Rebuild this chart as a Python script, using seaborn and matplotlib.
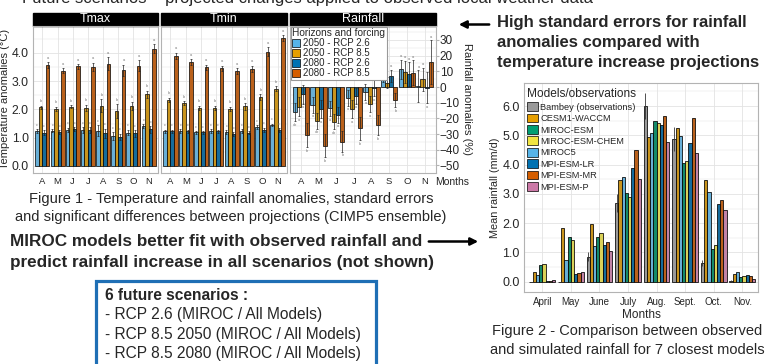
import numpy as np
import pandas as pd
import matplotlib
matplotlib.use("Agg")
import matplotlib.pyplot as plt
from matplotlib.patches import Rectangle, FancyArrowPatch, Patch
from matplotlib.ticker import MultipleLocator
import seaborn as sns

# ---- Figure 1 data : anomalies per scenario (rows) and month (columns)
month_ids = ["Apr", "May", "Jun", "Jul", "Aug", "Sep", "Oct", "Nov"]
month_letters = ["A", "M", "J", "J", "A", "S", "O", "N"]
scenarios = ["2050 - RCP 2.6", "2050 - RCP 8.5", "2080 - RCP 2.6", "2080 - RCP 8.5"]
scenario_colors = ["#56B4E9", "#E69F00", "#0072B2", "#D55E00"]

tmax = [[1.22, 1.25, 1.28, 1.27, 1.25, 1.05, 1.18, 1.42],
        [2.07, 2.03, 2.10, 2.05, 2.13, 1.93, 2.12, 2.53],
        [1.18, 1.20, 1.30, 1.27, 1.15, 1.02, 1.15, 1.30],
        [3.57, 3.37, 3.52, 3.50, 3.62, 3.38, 3.55, 4.15]]
tmax_se = [[0.07, 0.06, 0.07, 0.10, 0.20, 0.15, 0.10, 0.07],
           [0.06, 0.07, 0.06, 0.12, 0.22, 0.25, 0.15, 0.13],
           [0.08, 0.06, 0.08, 0.10, 0.17, 0.12, 0.12, 0.12],
           [0.10, 0.10, 0.08, 0.15, 0.22, 0.20, 0.20, 0.17]]

tmin = [[1.22, 1.24, 1.19, 1.24, 1.20, 1.22, 1.36, 1.45],
        [2.34, 2.22, 2.06, 2.05, 2.02, 2.11, 2.43, 2.73],
        [1.22, 1.22, 1.19, 1.22, 1.13, 1.18, 1.27, 1.27],
        [3.89, 3.68, 3.49, 3.45, 3.35, 3.43, 4.04, 4.53]]
tmin_se = [[0.06, 0.06, 0.05, 0.06, 0.06, 0.07, 0.07, 0.05],
           [0.08, 0.08, 0.07, 0.08, 0.08, 0.12, 0.10, 0.08],
           [0.06, 0.06, 0.05, 0.06, 0.06, 0.06, 0.08, 0.07],
           [0.12, 0.10, 0.09, 0.10, 0.10, 0.12, 0.15, 0.10]]

rain = [[-16.1, -11.5, -13.6, -6.8, -3.0, 6.2, 11.3, 0.6],
        [-12.5, -21.5, -22.0, -14.0, -11.0, 2.8, 9.8, 4.9],
        [-4.5, -14.0, -17.8, -5.7, -0.8, 7.0, 8.3, -0.4],
        [-30.6, -37.4, -34.8, -26.3, -24.2, -8.3, 9.1, 15.9]]
rain_se = [[5.8, 5.0, 5.0, 5.0, 5.0, 3.0, 6.0, 10.0],
           [6.0, 5.0, 5.0, 6.0, 5.0, 3.5, 7.0, 7.5],
           [6.0, 6.0, 5.0, 5.0, 5.0, 4.0, 7.5, 10.0],
           [7.8, 7.5, 6.5, 7.5, 6.5, 4.5, 8.0, 14.0]]

temp_letters = ["c", "b", "c", "a"]
rain_letters = [["ab", "a", "a", "a", "a", "a", "a", "a"],
                ["a", "ab", "ab", "a", "a", "a", "a", "a"],
                ["a", "a", "a", "a", "a", "a", "a", "a"],
                ["b", "b", "b", "b", "b", "b", "a", "a"]]

# ---- Figure 2 data : mean rainfall (mm/d)
fig2_months = ["April", "May", "June", "July", "Aug.", "Sept.", "Oct.", "Nov."]
sources = ["Bambey (observations)", "CESM1-WACCM", "MIROC5", "MIROC-ESM",
           "MIROC-ESM-CHEM", "MPI-ESM-LR", "MPI-ESM-MR", "MPI-ESM-P"]
legend_order = ["Bambey (observations)", "CESM1-WACCM", "MIROC-ESM", "MIROC-ESM-CHEM",
                "MIROC5", "MPI-ESM-LR", "MPI-ESM-MR", "MPI-ESM-P"]
source_colors = {"Bambey (observations)": "#999999", "CESM1-WACCM": "#E69F00",
                 "MIROC5": "#56B4E9", "MIROC-ESM": "#009E73", "MIROC-ESM-CHEM": "#F0E442",
                 "MPI-ESM-LR": "#0072B2", "MPI-ESM-MR": "#D55E00", "MPI-ESM-P": "#CC79A7"}

bambey = [0.0, 0.0, 0.85, 2.69, 6.00, 4.87, 0.65, 0.04]
bambey_se = [0.0, 0.0, 0.15, 0.30, 0.45, 0.42, 0.10, 0.02]
cesm1_waccm = [0.33, 1.82, 1.98, 3.48, 4.94, 5.26, 3.49, 0.26]
miroc5 = [0.23, 0.74, 1.23, 3.57, 5.07, 4.99, 3.05, 0.33]
miroc_esm = [0.58, 1.53, 1.53, 3.03, 5.48, 4.05, 1.13, 0.17]
miroc_esm_chem = [0.62, 1.44, 1.67, 2.89, 5.42, 4.12, 1.26, 0.19]
mpi_esm_lr = [0.02, 0.26, 1.27, 3.88, 5.35, 4.75, 2.64, 0.23]
mpi_esm_mr = [0.02, 0.30, 1.36, 4.50, 5.67, 5.61, 2.78, 0.21]
mpi_esm_p = [0.06, 0.32, 1.04, 3.50, 4.78, 4.39, 2.45, 0.11]

W, H = 770, 364
sns.set_style("white")
plt.rcParams["font.family"] = ["Liberation Sans", "DejaVu Sans"]
GRID = "#e3e3e3"
BORDER = "#b3b3b3"


def fx(x):
    return x / W


def fy(y):
    return 1 - y / H


def axes_box(x0, y0, x1, y1):
    return [fx(x0), fy(y1), (x1 - x0) / W, (y1 - y0) / H]


def long_df(values, errors):
    rows = []
    for sc, vals, errs in zip(scenarios, values, errors):
        for m, v, e in zip(month_ids, vals, errs):
            rows.append((m, sc, v, e))
    return pd.DataFrame(rows, columns=["month", "scenario", "value", "se"])


def style_axes(ax):
    ax.set_facecolor("white")
    ax.grid(True, which="major", color=GRID, lw=0.6)
    ax.grid(True, which="minor", axis="y", color=GRID, lw=0.35)
    ax.set_axisbelow(True)
    for s in ax.spines.values():
        s.set_visible(True)
        s.set_color(BORDER)
        s.set_linewidth(0.8)
    ax.set_xlabel("")
    ax.set_ylabel("")


def add_strip(ax, label):
    h = 13 / 146
    ax.add_patch(Rectangle((0, 1), 1, h, transform=ax.transAxes, facecolor="black",
                           edgecolor="black", clip_on=False))
    ax.text(0.5, 1 + h / 2, label, transform=ax.transAxes, color="white",
            ha="center", va="center", fontsize=9)


def draw_panel(ax, values, errors, letters, offset):
    df = long_df(values, errors)
    sns.barplot(data=df, x="month", y="value", hue="scenario", order=month_ids,
                hue_order=scenarios, palette=scenario_colors, width=0.92,
                edgecolor="black", linewidth=0.5, errorbar=None, legend=False, ax=ax)
    for i, (cont, sc) in enumerate(zip(ax.containers, scenarios)):
        sub = df[df.scenario == sc].set_index("month").loc[month_ids]
        xs = [b.get_x() + b.get_width() / 2 for b in cont]
        ax.errorbar(xs, sub["value"], yerr=sub["se"], fmt="none", ecolor="#222222",
                    elinewidth=0.5, capsize=0.8, capthick=0.5)
        for j, (x, v, e) in enumerate(zip(xs, sub["value"], sub["se"])):
            lab = letters[i] if isinstance(letters[i], str) else letters[i][j]
            if v >= 0:
                ax.text(x, v + e + offset, lab, ha="center", va="bottom",
                        fontsize=2.8, color="#777777")
            else:
                ax.text(x, v - e - offset, lab, ha="center", va="top",
                        fontsize=2.8, color="#777777")
    style_axes(ax)
    ax.set_xlim(-0.62, 7.62)
    ax.set_xticks(range(len(month_ids)))
    ax.set_xticklabels(month_letters)
    ax.tick_params(axis="x", length=2, color=BORDER, labelsize=6.8, pad=1)


fig = plt.figure(figsize=(W / 100, H / 100), dpi=100)

# ---- Figure 1 panels
ax_tmax = fig.add_axes(axes_box(33, 26, 158, 172.7))
ax_tmin = fig.add_axes(axes_box(161, 26, 287, 172.7))
ax_rain = fig.add_axes(axes_box(290, 26, 435.5, 172.7))

draw_panel(ax_tmax, tmax, tmax_se, temp_letters, 0.08)
draw_panel(ax_tmin, tmin, tmin_se, temp_letters, 0.08)
draw_panel(ax_rain, rain, rain_se, rain_letters, 1.0)

for ax in (ax_tmax, ax_tmin):
    ax.set_ylim(-0.24, 4.95)
    ax.yaxis.set_major_locator(MultipleLocator(1.0))
    ax.yaxis.set_minor_locator(MultipleLocator(0.5))
ax_tmax.set_yticks([0, 1, 2, 3, 4])
ax_tmax.set_yticklabels(["0.0", "1.0", "2.0", "3.0", "4.0"])
ax_tmax.tick_params(axis="y", which="major", length=2, color=BORDER, labelsize=8.8, pad=1)
ax_tmax.tick_params(axis="y", which="minor", length=0)
ax_tmax.set_ylabel("Temperature anomalies (°C)", fontsize=8, labelpad=1)
ax_tmin.tick_params(axis="y", which="both", length=0, labelleft=False)

ax_rain.set_ylim(-54.6, 38.9)
ax_rain.yaxis.set_major_locator(MultipleLocator(10))
ax_rain.yaxis.set_minor_locator(MultipleLocator(5))
ax_rain.yaxis.tick_right()
ax_rain.yaxis.set_label_position("right")
ax_rain.tick_params(axis="y", which="major", length=2, color=BORDER, labelsize=8.5,
                    pad=1, right=True, left=False)
ax_rain.tick_params(axis="y", which="minor", length=0)
ax_rain.set_ylabel("Rainfall anomalies (%)", fontsize=8, rotation=-90, labelpad=9)

add_strip(ax_tmax, "Tmax")
add_strip(ax_tmin, "Tmin")
add_strip(ax_rain, "Rainfall")

handles = [Patch(facecolor=c, edgecolor="black", linewidth=0.5) for c in scenario_colors]
leg = ax_rain.legend(handles, scenarios, title="Horizons and forcing", loc="upper left",
                     bbox_to_anchor=(0.0, 1.0), fontsize=7.0, title_fontsize=7.3,
                     frameon=True, fancybox=False, framealpha=1.0, borderpad=0.15,
                     labelspacing=0.0, handlelength=0.8, handleheight=0.75,
                     handletextpad=0.3, borderaxespad=0.1)
leg.get_frame().set_edgecolor("#999999")
leg.get_frame().set_linewidth(0.8)
leg._legend_box.align = "left"

fig.text(fx(435), fy(182), "Months", fontsize=7.5, ha="left", va="center")

# ---- Figure 2
ax2 = fig.add_axes(axes_box(524, 83, 758, 291.7))
df2 = pd.DataFrame({"month": fig2_months * 8,
                    "source": np.repeat(sources, len(fig2_months)),
                    "rain": bambey + cesm1_waccm + miroc5 + miroc_esm + miroc_esm_chem
                    + mpi_esm_lr + mpi_esm_mr + mpi_esm_p})
sns.barplot(data=df2, x="month", y="rain", hue="source", order=fig2_months,
            hue_order=sources, palette=source_colors, width=0.9, edgecolor="black",
            linewidth=0.55, errorbar=None, legend=False, ax=ax2)
obs_bars = ax2.containers[0]
ax2.errorbar([b.get_x() + b.get_width() / 2 for b in obs_bars], bambey, yerr=bambey_se,
             fmt="none", ecolor="#333333", elinewidth=0.6, capsize=0)
style_axes(ax2)
ax2.set_xlim(-0.64, 7.55)
ax2.set_ylim(-0.34, 6.79)
ax2.yaxis.set_major_locator(MultipleLocator(1.0))
ax2.yaxis.set_minor_locator(MultipleLocator(0.5))
ax2.set_yticks([0, 1, 2, 3, 4, 5, 6])
ax2.set_yticklabels(["0.0", "1.0", "2.0", "3.0", "4.0", "5.0", "6.0"])
ax2.tick_params(axis="y", which="major", length=2, color=BORDER, labelsize=9, pad=1)
ax2.tick_params(axis="y", which="minor", length=0)
ax2.tick_params(axis="x", length=2, color=BORDER, labelsize=7, pad=1.5)
ax2.set_ylabel("Mean rainfall (mm/d)", fontsize=7.8, labelpad=2)
ax2.set_xlabel("Months", fontsize=8.5, labelpad=2)

handles2 = [Patch(facecolor=source_colors[s], edgecolor="black", linewidth=0.5)
            for s in legend_order]
leg2 = ax2.legend(handles2, legend_order, title="Models/observations", loc="upper left",
                  bbox_to_anchor=(0.0, 0.99), fontsize=6.7, title_fontsize=8.6,
                  frameon=False, borderpad=0.25, labelspacing=0.19,
                  handlelength=1.2, handleheight=1.1, handletextpad=0.2,
                  borderaxespad=0.1)
leg2._legend_box.align = "left"

# ---- Texts and annotations
fig.text(fx(22), fy(3), "Future scenarios \u2013 projected changes applied to observed local weather data",
         fontsize=12, ha="left", va="baseline")

fig.text(fx(231), fy(199), "Figure 1 - Temperature and rainfall anomalies, standard errors",
         fontsize=10.5, ha="center", va="center")
fig.text(fx(231), fy(217.5), "and significant differences between projections (CIMP5 ensemble)",
         fontsize=10.5, ha="center", va="center")

fig.text(fx(10), fy(241), "MIROC models better fit with observed rainfall and",
         fontsize=12.3, fontweight="bold", ha="left", va="center")
fig.text(fx(10), fy(262), "predict rainfall increase in all scenarios (not shown)",
         fontsize=12.3, fontweight="bold", ha="left", va="center")

for i, line in enumerate(["High standard errors for rainfall", "anomalies compared with",
                          "temperature increase projections"]):
    fig.text(fx(497), fy(22 + 20.5 * i), line, fontsize=12, fontweight="bold",
             ha="left", va="center")

fig.add_artist(FancyArrowPatch((fx(492), fy(24.5)), (fx(456), fy(24.5)),
                               transform=fig.transFigure, arrowstyle="-|>",
                               mutation_scale=11, lw=1.8, color="black"))
fig.add_artist(FancyArrowPatch((fx(426), fy(241.5)), (fx(481), fy(241.5)),
                               transform=fig.transFigure, arrowstyle="-|>",
                               mutation_scale=11, lw=1.8, color="black"))

fig.text(fx(627), fy(331.5), "Figure 2 - Comparison between observed",
         fontsize=10.5, ha="center", va="center")
fig.text(fx(627), fy(350), "and simulated rainfall for 7 closest models",
         fontsize=10.5, ha="center", va="center")

fig.add_artist(Rectangle((fx(95.5), fy(375)), (376 - 95.5) / W, (375 - 281.5) / H,
                         transform=fig.transFigure, facecolor="none",
                         edgecolor="#1f6fb5", lw=2.3))
fig.text(fx(105), fy(295), "6 future scenarios :", fontsize=11.2, fontweight="bold",
         ha="left", va="center")
for i, line in enumerate(["- RCP 2.6 (MIROC / All Models)",
                          "- RCP 8.5 2050 (MIROC / All Models)",
                          "- RCP 8.5 2080 (MIROC / All Models)"]):
    fig.text(fx(105), fy(314.5 + 19.5 * i), line, fontsize=11.2, ha="left", va="center")

fig.savefig("out.png", dpi=100)
